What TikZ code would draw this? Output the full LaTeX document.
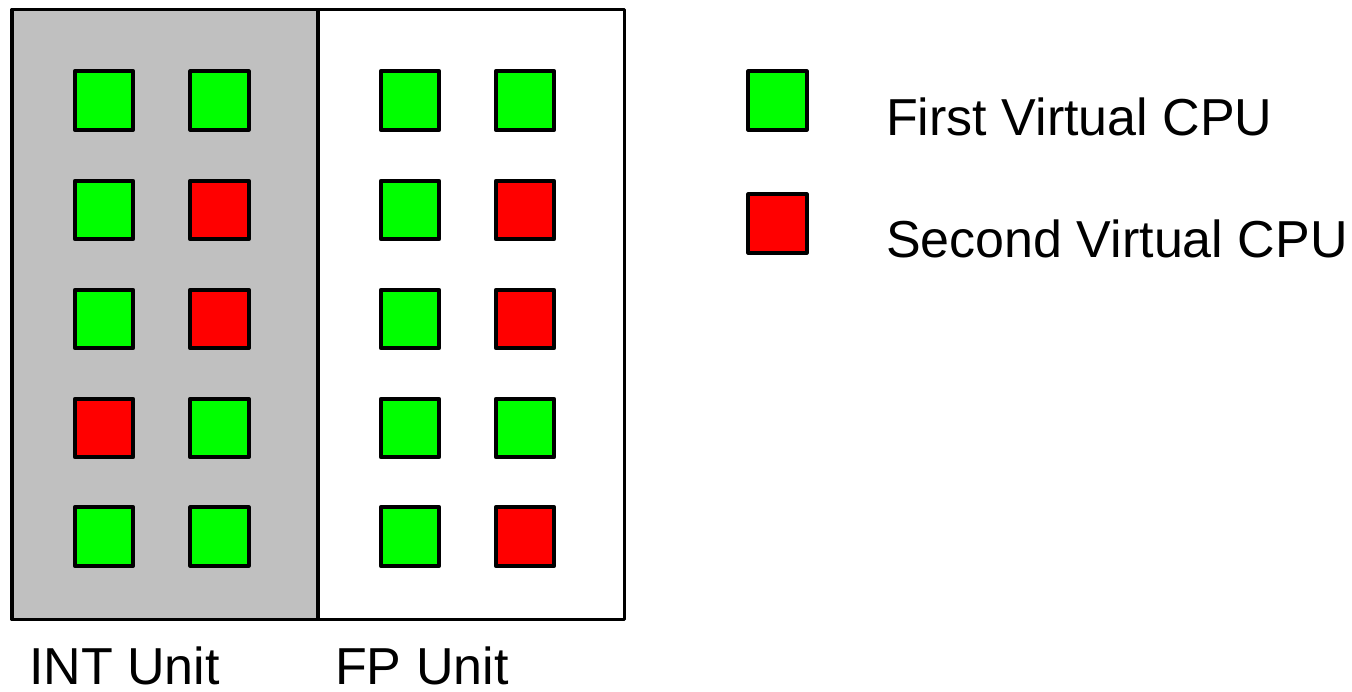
\documentclass[tikz,border=0pt]{standalone}
\usepackage{fontspec}
\setmainfont{Liberation Sans}
\definecolor{cg}{HTML}{00FF00}
\definecolor{cr}{HTML}{FF0000}
\definecolor{unitgray}{HTML}{C0C0C0}
\begin{document}
\begin{tikzpicture}[x=1pt,y=-1pt,
  cell/.style={draw=black,line width=3.8pt,line join=round,minimum size=58.5pt,inner sep=0pt},
  gcell/.style={cell,fill=cg},
  rcell/.style={cell,fill=cr},
  unitbox/.style={draw=black,line width=3.5pt,line join=round,inner sep=0pt,minimum width=306pt,minimum height=610pt},
  lbl/.style={anchor=base west,inner sep=0pt,font=\fontsize{52}{60}\selectfont}]
\useasboundingbox (0,0) rectangle (1352,692);
\fill[white] (0,0) rectangle (1352,692);
\node[unitbox,fill=unitgray] (int) at (165,314.5) {};
\node[unitbox,fill=white] (fp) at (471.5,314.5) {};
% INT unit
\node[gcell] (i11) at (104,100.5) {};
\node[gcell] (i12) at (219.5,100.5) {};
\node[gcell] (i21) at (104,210) {};
\node[rcell] (i22) at (219.5,210) {};
\node[gcell] (i31) at (104,319) {};
\node[rcell] (i32) at (219.5,319) {};
\node[rcell] (i41) at (104,428) {};
\node[gcell] (i42) at (219.5,428) {};
\node[gcell] (i51) at (104,536.5) {};
\node[gcell] (i52) at (219.5,536.5) {};
% FP unit
\node[gcell] (f11) at (410,100.5) {};
\node[gcell] (f12) at (525,100.5) {};
\node[gcell] (f21) at (410,210) {};
\node[rcell] (f22) at (525,210) {};
\node[gcell] (f31) at (410,319) {};
\node[rcell] (f32) at (525,319) {};
\node[gcell] (f41) at (410,428) {};
\node[gcell] (f42) at (525,428) {};
\node[gcell] (f51) at (410,536.5) {};
\node[rcell] (f52) at (525,536.5) {};
% legend
\node[gcell] (lg) at (777.5,100.5) {};
\node[rcell] (lr) at (777.5,223.5) {};
\node[lbl] (tg) at (886,136) {First Virtual CPU};
\node[lbl] (tr) at (886,258) {Second Virtual CPU};
% unit labels
\node[lbl] (ti) at (29,684) {INT Unit};
\node[lbl] (tf) at (335,684) {FP Unit};
\end{tikzpicture}
\end{document}
